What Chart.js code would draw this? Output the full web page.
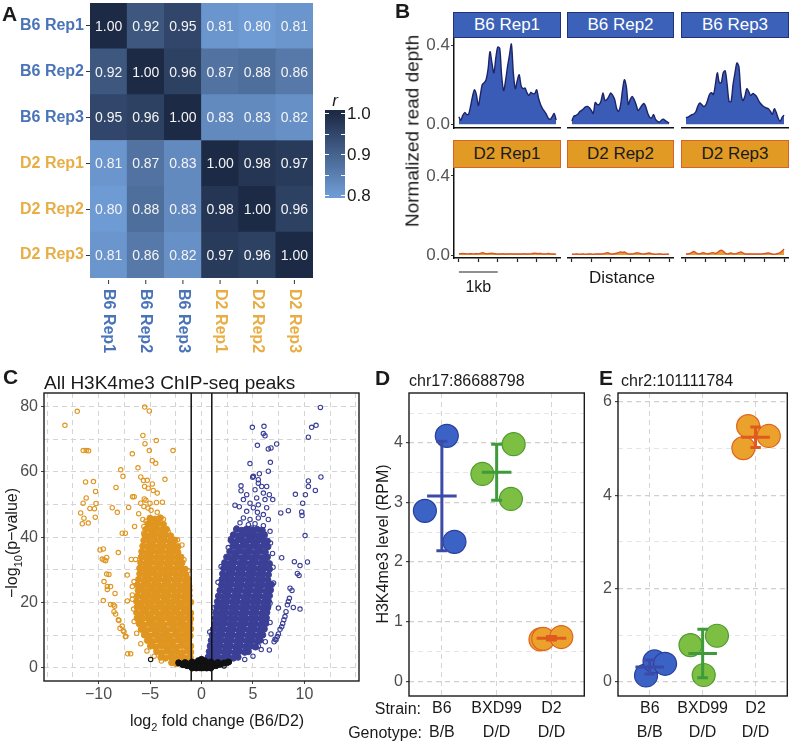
<!DOCTYPE html>
<html>
<head>
<meta charset="utf-8">
<title>H3K4me3 B6 vs D2</title>
<script src="https://cdn.jsdelivr.net/npm/chart.js@4.4.1/dist/chart.umd.min.js"></script>
<style>
  body { margin: 0; width: 800px; height: 744px; position: relative; overflow: hidden; background: #fff;
         font-family: "Liberation Sans", Arial, Helvetica, sans-serif; color: #1a1a1a; }
  canvas { position: absolute; }
  .txt { position: absolute; white-space: nowrap; line-height: 1; }
  .letter { position: absolute; font-weight: bold; font-size: 21px; line-height: 1; }
  .strip { position: absolute; box-sizing: border-box; font-size: 17px; text-align: center; border: 1px solid; line-height: 24px; }
  .b6 { background: #3b62b8; border-color: #24307a; color: #fff; }
  .d2 { background: #e19b24; border-color: #dc6128; color: #1a1a1a; }
</style>
</head>
<body>
<canvas id="heat" width="400" height="370" style="left:0;top:0"></canvas>

<canvas id="pB6r1" width="141" height="96" style="left:420px;top:36px"></canvas>
<canvas id="pB6r2" width="107" height="96" style="left:567px;top:36px"></canvas>
<canvas id="pB6r3" width="108" height="96" style="left:681px;top:36px"></canvas>
<canvas id="pD2r1" width="141" height="134" style="left:420px;top:166px"></canvas>
<canvas id="pD2r2" width="107" height="134" style="left:567px;top:166px"></canvas>
<canvas id="pD2r3" width="108" height="134" style="left:681px;top:166px"></canvas>

<canvas id="volcano" width="365" height="409" style="left:0;top:335px"></canvas>
<canvas id="chr17" width="227" height="384" style="left:370px;top:360px"></canvas>
<canvas id="chr2" width="203" height="384" style="left:597px;top:360px"></canvas>

<div class="letter" style="left:2px;top:3px">A</div>
<div class="letter" style="left:395px;top:0px">B</div>
<div class="letter" style="left:3px;top:366px">C</div>
<div class="letter" style="left:375px;top:367px">D</div>
<div class="letter" style="left:599px;top:367px">E</div>

<div class="strip b6" style="left:453px;top:12px;width:108px;height:26px">B6 Rep1</div>
<div class="strip b6" style="left:567px;top:12px;width:107px;height:26px">B6 Rep2</div>
<div class="strip b6" style="left:681px;top:12px;width:108px;height:26px">B6 Rep3</div>
<div class="strip d2" style="left:453px;top:140px;width:108px;height:28px;line-height:26px">D2 Rep1</div>
<div class="strip d2" style="left:567px;top:140px;width:107px;height:28px;line-height:26px">D2 Rep2</div>
<div class="strip d2" style="left:681px;top:140px;width:108px;height:28px;line-height:26px">D2 Rep3</div>
<div class="txt" style="left:412px;top:131px;font-size:19px;transform:translate(-50%,-50%) rotate(-90deg)">Normalized read depth</div>
<div class="txt" style="left:622px;top:277px;font-size:17px;transform:translate(-50%,-50%)">Distance</div>

<div class="txt" style="left:44px;top:373px;font-size:19px">All H3K4me3 ChIP-seq peaks</div>
<div class="txt" style="left:409px;top:373px;font-size:16px">chr17:86688798</div>
<div class="txt" style="left:621px;top:373px;font-size:16px">chr2:101111784</div>
<div class="txt" style="left:300px;top:701px;width:121px;text-align:right;font-size:16px">Strain:</div>
<div class="txt" style="left:300px;top:725px;width:122px;text-align:right;font-size:16px">Genotype:</div>

<script>
// ---------- data ----------
const samples = ['B6 Rep1', 'B6 Rep2', 'B6 Rep3', 'D2 Rep1', 'D2 Rep2', 'D2 Rep3'];
const sampleColors = ['#4a74b8', '#4a74b8', '#4a74b8', '#e8ae45', '#e8ae45', '#e8ae45'];
const corr = [
  [1.00, 0.92, 0.95, 0.81, 0.80, 0.81],
  [0.92, 1.00, 0.96, 0.87, 0.88, 0.86],
  [0.95, 0.96, 1.00, 0.83, 0.83, 0.82],
  [0.81, 0.87, 0.83, 1.00, 0.98, 0.97],
  [0.80, 0.88, 0.83, 0.98, 1.00, 0.96],
  [0.81, 0.86, 0.82, 0.97, 0.96, 1.00]
];
const legendTicks = [0.8, 0.9, 1.0];

// read depth profiles, 50 bp steps around the peak
const distance = [-1250, -1200, -1150, -1100, -1050, -1000, -950, -900, -850, -800, -750, -700, -650, -600, -550, -500, -450, -400, -350, -300, -250, -200, -150, -100, -50, 0,
  50, 100, 150, 200, 250, 300, 350, 400, 450, 500, 550, 600, 650, 700, 750, 800, 850, 900, 950, 1000, 1050, 1100, 1150, 1200, 1250];
const distanceTicks = [-1250, -750, -250, 250, 750, 1250];
const depthTicks = [0, 0.4];
const scaleBarBp = [-1250, -250];
const depthB6Rep1 = [0.038, 0.02, 0.045, 0.059, 0.05, 0.05, 0.09, 0.14, 0.174, 0.15, 0.095, 0.145, 0.2, 0.21, 0.225, 0.277, 0.367, 0.31, 0.26, 0.335, 0.39, 0.384, 0.244, 0.17, 0.22, 0.29,
  0.35, 0.405, 0.26, 0.18, 0.22, 0.25, 0.194, 0.18, 0.183, 0.16, 0.145, 0.161, 0.155, 0.155, 0.174, 0.13, 0.1, 0.079, 0.065, 0.05, 0.03, 0.025, 0.038, 0.054, 0.021];
const depthB6Rep2 = [0.016, 0.04, 0.044, 0.05, 0.063, 0.07, 0.078, 0.088, 0.09, 0.083, 0.07, 0.054, 0.11, 0.1, 0.1, 0.118, 0.158, 0.12, 0.125, 0.14, 0.158, 0.146, 0.125, 0.08, 0.065, 0.095,
  0.17, 0.225, 0.19, 0.1, 0.125, 0.14, 0.125, 0.1, 0.07, 0.08, 0.095, 0.105, 0.088, 0.055, 0.035, 0.032, 0.049, 0.025, 0.015, 0.01, 0.02, 0.026, 0.018, 0.012, 0.005];
const depthB6Rep3 = [0.033, 0.036, 0.042, 0.048, 0.052, 0.062, 0.09, 0.107, 0.1, 0.09, 0.095, 0.12, 0.15, 0.16, 0.15, 0.2, 0.26, 0.21, 0.21, 0.26, 0.27, 0.2, 0.115, 0.115, 0.2, 0.26,
  0.31, 0.29, 0.16, 0.12, 0.14, 0.18, 0.165, 0.145, 0.155, 0.15, 0.14, 0.12, 0.105, 0.095, 0.087, 0.082, 0.078, 0.066, 0.05, 0.078, 0.06, 0.03, 0.015, 0.035, 0.046];
const depthD2Rep1 = [0.006, 0.007, 0.008, 0.007, 0.006, 0.006, 0.007, 0.006, 0.006, 0.007, 0.006, 0.008, 0.012, 0.009, 0.006, 0.007, 0.008, 0.009, 0.007, 0.006, 0.005, 0.005, 0.006, 0.006, 0.005, 0.005,
  0.006, 0.006, 0.005, 0.005, 0.006, 0.005, 0.005, 0.006, 0.006, 0.005, 0.006, 0.006, 0.008, 0.009, 0.008, 0.007, 0.008, 0.006, 0.005, 0.006, 0.008, 0.006, 0.005, 0.005, 0.004];
const depthD2Rep2 = [0.004, 0.004, 0.005, 0.005, 0.004, 0.005, 0.005, 0.004, 0.005, 0.006, 0.005, 0.004, 0.005, 0.006, 0.005, 0.005, 0.006, 0.008, 0.012, 0.01, 0.006, 0.005, 0.007, 0.009, 0.012, 0.016,
  0.013, 0.015, 0.01, 0.006, 0.005, 0.006, 0.008, 0.01, 0.011, 0.008, 0.006, 0.005, 0.007, 0.009, 0.01, 0.007, 0.005, 0.004, 0.005, 0.006, 0.005, 0.004, 0.004, 0.005, 0.004];
const depthD2Rep3 = [0.005, 0.006, 0.008, 0.013, 0.018, 0.012, 0.007, 0.006, 0.009, 0.012, 0.008, 0.006, 0.008, 0.011, 0.012, 0.008, 0.012, 0.02, 0.025, 0.019, 0.01, 0.006, 0.008, 0.01, 0.007, 0.006,
  0.008, 0.012, 0.016, 0.011, 0.006, 0.005, 0.005, 0.006, 0.005, 0.005, 0.006, 0.005, 0.005, 0.006, 0.007, 0.009, 0.01, 0.008, 0.005, 0.004, 0.005, 0.008, 0.012, 0.02, 0.03];

// volcano: [log2 fold change, -log10 p]; "core" = the saturated, overplotted mass
const foldGrid = [-15, -12.5, -10, -7.5, -5, -2.5, 0, 2.5, 5, 7.5, 10, 12.5, 15];
const foldLabels = [-10, -5, 0, 5, 10];
const pGrid = [0, 10, 20, 30, 40, 50, 60, 70, 80];
const pLabels = [0, 20, 40, 60, 80];
const foldCut = [-1, 1];
const volcanoD2Core = [
  [-2.9,1.6],[-2.45,1.3],[-1.95,1.7],[-1.5,1.4],[-1.1,1.6],
  [-3.95,3.3],[-3.5,3.0],[-3.0,3.4],[-2.5,3.1],[-2.0,3.3],[-1.55,3.0],[-1.1,3.3],
  [-4.35,5.0],[-3.85,4.7],[-3.35,5.1],[-2.85,4.8],[-2.35,5.0],[-1.85,4.7],[-1.35,5.1],[-1.05,4.8],
  [-4.95,6.7],[-4.45,6.4],[-3.95,6.8],[-3.45,6.5],[-2.95,6.7],[-2.45,6.4],[-1.95,6.8],[-1.45,6.5],[-1.05,6.7],
  [-5.25,8.4],[-4.75,8.1],[-4.25,8.5],[-3.75,8.2],[-3.25,8.4],[-2.75,8.1],[-2.25,8.5],[-1.75,8.2],[-1.25,8.4],
  [-5.55,10.1],[-5.05,9.8],[-4.55,10.2],[-4.05,9.9],[-3.55,10.1],[-3.05,9.8],[-2.55,10.2],[-2.05,9.9],[-1.55,10.1],[-1.1,9.8],
  [-5.85,11.8],[-5.35,11.5],[-4.85,11.9],[-4.35,11.6],[-3.85,11.8],[-3.35,11.5],[-2.85,11.9],[-2.35,11.6],[-1.85,11.8],[-1.35,11.5],[-1.05,11.9],
  [-6.05,13.5],[-5.6,13.2],[-5.1,13.6],[-4.6,13.3],[-4.1,13.5],[-3.6,13.2],[-3.1,13.6],[-2.6,13.3],[-2.1,13.5],[-1.6,13.2],[-1.15,13.6],
  [-6.25,15.2],[-5.8,14.9],[-5.3,15.3],[-4.8,15.0],[-4.3,15.2],[-3.8,14.9],[-3.3,15.3],[-2.8,15.0],[-2.3,15.2],[-1.8,14.9],[-1.3,15.3],[-1.05,15.0],
  [-6.3,16.9],[-5.85,16.6],[-5.35,17.0],[-4.85,16.7],[-4.35,16.9],[-3.85,16.6],[-3.35,17.0],[-2.85,16.7],[-2.35,16.9],[-1.85,16.6],[-1.35,17.0],[-1.05,16.8],
  [-6.25,18.6],[-5.75,18.3],[-5.25,18.7],[-4.75,18.4],[-4.25,18.6],[-3.75,18.3],[-3.25,18.7],[-2.75,18.4],[-2.25,18.6],[-1.75,18.3],[-1.25,18.7],
  [-6.3,20.3],[-5.8,20.0],[-5.3,20.4],[-4.8,20.1],[-4.3,20.3],[-3.8,20.0],[-3.3,20.4],[-2.8,20.1],[-2.3,20.3],[-1.8,20.0],[-1.3,20.4],[-1.05,20.1],
  [-6.2,22.0],[-5.7,21.7],[-5.2,22.1],[-4.7,21.8],[-4.2,22.0],[-3.7,21.7],[-3.2,22.1],[-2.7,21.8],[-2.2,22.0],[-1.7,21.7],[-1.2,22.1],
  [-6.15,23.7],[-5.65,23.4],[-5.15,23.8],[-4.65,23.5],[-4.15,23.7],[-3.65,23.4],[-3.15,23.8],[-2.65,23.5],[-2.15,23.7],[-1.65,23.4],[-1.2,23.8],
  [-6.2,25.4],[-5.7,25.1],[-5.2,25.5],[-4.7,25.2],[-4.2,25.4],[-3.7,25.1],[-3.2,25.5],[-2.7,25.2],[-2.2,25.4],[-1.7,25.1],[-1.3,25.5],
  [-6.1,27.1],[-5.6,26.8],[-5.1,27.2],[-4.6,26.9],[-4.1,27.1],[-3.6,26.8],[-3.1,27.2],[-2.6,26.9],[-2.1,27.1],[-1.6,26.8],[-1.3,27.2],
  [-6.0,28.8],[-5.5,28.5],[-5.0,28.9],[-4.5,28.6],[-4.0,28.8],[-3.5,28.5],[-3.0,28.9],[-2.5,28.6],[-2.0,28.8],[-1.5,28.5],
  [-6.0,30.5],[-5.5,30.2],[-5.0,30.6],[-4.5,30.3],[-4.0,30.5],[-3.5,30.2],[-3.0,30.6],[-2.5,30.3],[-2.0,30.5],[-1.6,30.2],
  [-5.9,32.2],[-5.4,31.9],[-4.9,32.3],[-4.4,32.0],[-3.9,32.2],[-3.4,31.9],[-2.9,32.3],[-2.4,32.0],[-1.9,32.2],
  [-5.85,33.9],[-5.35,33.6],[-4.85,34.0],[-4.35,33.7],[-3.85,33.9],[-3.35,33.6],[-2.85,34.0],[-2.35,33.7],[-2.0,33.9],
  [-5.8,35.6],[-5.3,35.3],[-4.8,35.7],[-4.3,35.4],[-3.8,35.6],[-3.3,35.3],[-2.8,35.7],[-2.3,35.4],
  [-5.7,37.3],[-5.2,37.0],[-4.7,37.4],[-4.2,37.1],[-3.7,37.3],[-3.2,37.0],[-2.7,37.4],[-2.3,37.1],
  [-5.6,39.0],[-5.1,38.7],[-4.6,39.1],[-4.1,38.8],[-3.6,39.0],[-3.1,38.7],[-2.6,39.1],
  [-5.5,40.7],[-5.0,40.4],[-4.5,40.8],[-4.0,40.5],[-3.5,40.7],[-3.0,40.4],
  [-5.4,42.4],[-4.9,42.1],[-4.4,42.5],[-3.9,42.2],[-3.4,42.4],
  [-5.2,44.1],[-4.7,43.8],[-4.2,44.2],[-3.7,43.9],
  [-5.0,45.8],[-4.5,45.5],[-4.0,45.9]
];
const volcanoD2Sparse = [
  [-5.9,58.4],[-5.64,57.3],[-5.27,57.4],[-4.78,56.3],[-5.53,55.5],[-5.18,55.0],[-4.69,54.3],[-4.3,53.5],[-6.54,52.4],[-6.7,52.4],
  [-5.56,51.7],[-5.4,51.3],[-5.9,50.4],[-5.0,50.4],[-4.37,50.6],[-3.8,50.7],[-5.6,49.4],[-5.2,48.9],[-4.9,48.2],[-4.3,47.6],
  [-6.1,47.2],[-5.7,45.4],[-5.4,44.9],[-5.0,45.5],[-4.6,44.9],[-5.2,43.8],[-5.6,43.3],[-4.9,42.8],[-4.45,43.3],[-3.97,43.3],
  [-3.7,45.5],[-4.07,42.1],[-5.6,41.3],[-5.27,40.3],[-4.78,40.8],[-4.3,40.3],[-3.64,39.2],[-3.25,41.8],[-2.33,39.2],[-6.5,43.3],[-7.4,41.2],
  [-8.3,55.2],[-7.85,60.6],[-7.63,58.6],[-6.17,61.2],[-3.55,57.7],[-4.78,63.4],[-4.45,62.6],[-6.72,65.5],[-5.07,66.5],[-2.77,66.5],
  [-5.49,68.6],[-4.39,69.6],[-5.69,71.1],[-5.52,79.8],[-5.07,78.6],[-12.07,78.5],[-13.27,74.2],[-11.49,66.5],[-11.2,66.5],[-10.97,66.4],
  [-11.26,56.9],[-10.5,57.0],[-10.29,54.0],[-11.2,52.0],[-11.5,50.4],[-10.25,50.3],[-10.84,48.8],[-10.4,48.7],[-11.74,47.4],[-11.42,45.8],
  [-10.32,46.1],[-11.58,44.1],[-11.0,44.3],[-8.67,49.0],[-8.18,47.6],[-7.08,49.1],
  [-9.54,36.4],[-9.64,33.3],[-9.21,33.8],[-9.31,32.8],[-8.08,35.3],[-9.21,28.7],[-8.99,28.6],[-9.47,26.4],[-8.83,24.9],[-9.15,24.0],
  [-9.54,20.6],[-8.83,19.4],[-8.44,18.9],[-8.5,17.2],[-8.34,16.5],[-8.02,14.5],[-7.7,12.8],[-7.92,12.1],[-7.6,11.4],[-7.4,9.6],
  [-6.88,4.3],[-7.21,28.4],[-6.56,26.4],[-6.72,24.9],[-6.72,22.3],[-6.72,21.0],[-7.21,20.5],[-6.82,33.2],[-6.4,33.2],[-9.86,36.1],
  [-9.47,33.0],[-9.15,24.9],[-8.4,22.8],[-8.57,19.3],[-8.08,14.7],[-7.53,11.1],[-7.34,9.6],[-7.17,4.3],[-7.7,41.2],
  [-6.6,18.0],[-6.55,14.2],[-6.3,10.6],[-5.9,7.4],[-5.3,5.2],[-4.6,3.6],[-3.9,2.1],[-1.9,37.6],[-1.7,33.1],[-1.3,29.8],[-1.15,25.0]
];
const volcanoB6Core = [
  [0.55,1.6],[1.0,1.3],[1.5,1.7],[2.0,1.4],[2.45,1.6],
  [0.65,3.3],[1.1,3.0],[1.6,3.4],[2.1,3.1],[2.6,3.3],[3.1,3.0],[3.55,3.3],
  [0.75,5.0],[1.2,4.7],[1.7,5.1],[2.2,4.8],[2.7,5.0],[3.2,4.7],[3.7,5.1],[4.2,4.8],[4.55,5.0],
  [0.85,6.7],[1.3,6.4],[1.8,6.8],[2.3,6.5],[2.8,6.7],[3.3,6.4],[3.8,6.8],[4.3,6.5],[4.8,6.7],[5.25,6.4],
  [0.95,8.4],[1.4,8.1],[1.9,8.5],[2.4,8.2],[2.9,8.4],[3.4,8.1],[3.9,8.5],[4.4,8.2],[4.9,8.4],[5.4,8.1],[5.7,8.5],
  [1.05,10.1],[1.5,9.8],[2.0,10.2],[2.5,9.9],[3.0,10.1],[3.5,9.8],[4.0,10.2],[4.5,9.9],[5.0,10.1],[5.5,9.8],[5.95,10.1],
  [1.15,11.8],[1.6,11.5],[2.1,11.9],[2.6,11.6],[3.1,11.8],[3.6,11.5],[4.1,11.9],[4.6,11.6],[5.1,11.8],[5.6,11.5],[6.1,11.9],
  [1.3,13.5],[1.75,13.2],[2.25,13.6],[2.75,13.3],[3.25,13.5],[3.75,13.2],[4.25,13.6],[4.75,13.3],[5.25,13.5],[5.75,13.2],[6.25,13.6],
  [1.35,15.2],[1.8,14.9],[2.3,15.3],[2.8,15.0],[3.3,15.2],[3.8,14.9],[4.3,15.3],[4.8,15.0],[5.3,15.2],[5.8,14.9],[6.3,15.3],
  [1.4,16.9],[1.85,16.6],[2.35,17.0],[2.85,16.7],[3.35,16.9],[3.85,16.6],[4.35,17.0],[4.85,16.7],[5.35,16.9],[5.85,16.6],[6.35,17.0],
  [1.5,18.6],[1.95,18.3],[2.45,18.7],[2.95,18.4],[3.45,18.6],[3.95,18.3],[4.45,18.7],[4.95,18.4],[5.45,18.6],[5.95,18.3],[6.45,18.7],
  [1.55,20.3],[2.0,20.0],[2.5,20.4],[3.0,20.1],[3.5,20.3],[4.0,20.0],[4.5,20.4],[5.0,20.1],[5.5,20.3],[6.0,20.0],[6.5,20.4],
  [1.65,22.0],[2.1,21.7],[2.6,22.1],[3.1,21.8],[3.6,22.0],[4.1,21.7],[4.6,22.1],[5.1,21.8],[5.6,22.0],[6.1,21.7],[6.6,22.1],
  [1.8,23.7],[2.25,23.4],[2.75,23.8],[3.25,23.5],[3.75,23.7],[4.25,23.4],[4.75,23.8],[5.25,23.5],[5.75,23.7],[6.25,23.4],[6.7,23.8],
  [1.95,25.4],[2.4,25.1],[2.9,25.5],[3.4,25.2],[3.9,25.4],[4.4,25.1],[4.9,25.5],[5.4,25.2],[5.9,25.4],[6.4,25.1],[6.8,25.5],
  [2.0,27.1],[2.45,26.8],[2.95,27.2],[3.45,26.9],[3.95,27.1],[4.45,26.8],[4.95,27.2],[5.45,26.9],[5.95,27.1],[6.45,26.8],
  [2.05,28.8],[2.5,28.5],[3.0,28.9],[3.5,28.6],[4.0,28.8],[4.5,28.5],[5.0,28.9],[5.5,28.6],[6.0,28.8],[6.5,28.5],
  [2.15,30.5],[2.6,30.2],[3.1,30.6],[3.6,30.3],[4.1,30.5],[4.6,30.2],[5.1,30.6],[5.6,30.3],[6.1,30.5],[6.6,30.2],
  [2.25,32.2],[2.7,31.9],[3.2,32.3],[3.7,32.0],[4.2,32.2],[4.7,31.9],[5.2,32.3],[5.7,32.0],[6.2,32.2],[6.6,31.9],
  [2.45,33.9],[2.9,33.6],[3.4,34.0],[3.9,33.7],[4.4,33.9],[4.9,33.6],[5.4,34.0],[5.9,33.7],[6.4,33.9],
  [2.75,35.6],[3.2,35.3],[3.7,35.7],[4.2,35.4],[4.7,35.6],[5.2,35.3],[5.7,35.7],[6.2,35.4],
  [3.05,37.3],[3.5,37.0],[4.0,37.4],[4.5,37.1],[5.0,37.3],[5.5,37.0],[6.0,37.4],[6.45,37.1],
  [2.9,39.0],[3.4,38.7],[3.9,39.1],[4.4,38.8],[4.9,39.0],[5.4,38.7],[5.9,39.1],[6.4,38.8],
  [3.1,40.7],[3.6,40.4],[4.1,40.8],[4.6,40.5],[5.1,40.7],[5.6,40.4],[6.1,40.8],
  [3.4,42.4],[3.9,42.1],[4.4,42.5],[4.9,42.2],[5.4,42.4],[5.9,42.1]
];
const volcanoB6Sparse = [
  [5.04,58.6],[5.52,56.5],[5.85,55.5],[6.33,55.5],[5.2,54.5],[6.01,53.5],[6.59,53.0],[4.39,53.0],[4.07,51.5],[5.36,52.0],
  [6.17,51.5],[6.92,51.5],[4.71,50.4],[5.52,49.9],[3.25,49.8],[3.67,49.3],[5.04,49.0],[6.33,49.0],[4.39,47.9],[5.43,47.6],
  [6.01,46.9],[4.07,45.9],[4.71,45.4],[5.52,45.9],[6.49,45.4],[3.74,44.4],[4.55,43.8],[5.2,44.1],[6.01,43.5],[3.42,42.8],
  [4.23,42.3],[4.87,42.8],[5.69,42.1],[6.66,41.8],[3.09,40.8],[3.74,40.3],[4.55,40.8],[5.2,40.1],[6.17,40.5],[2.83,39.5],
  [11.55,79.7],[10.7,73.6],[11.13,74.2],[10.38,70.6],[4.94,73.6],[6.07,73.9],[6.01,71.7],[6.17,71.0],[5.43,68.1],[7.3,68.5],
  [6.49,67.0],[6.75,67.3],[4.71,62.5],[6.69,62.9],[5.62,59.4],[6.49,60.2],[4.97,58.3],[5.52,57.6],[3.84,55.7],[3.84,54.2],
  [11.6,58.4],[10.38,57.2],[10.38,55.5],[11.06,54.3],[9.12,53.1],[10.09,53.0],[9.83,50.4],[9.73,47.7],[9.77,46.6],[8.44,48.1],
  [7.7,47.4],[10.06,40.5],[7.79,33.7],[9.02,32.5],[9.57,31.3],[10.29,32.4],[9.31,28.9],[9.48,28.3],[8.6,24.4],[8.79,23.7],
  [9.57,18.0],[8.92,18.5],[8.54,21.3],[8.34,19.3],[8.21,17.2],[8.11,15.7],[7.89,13.6],[7.63,11.8],[7.47,10.4],[7.24,8.6],
  [7.05,8.0],[8.44,20.3],[8.0,14.7],[7.79,12.6],[7.37,9.6],[7.14,8.8],[7.47,18.3],[6.66,19.8],[6.49,18.3],[6.66,13.9],
  [6.59,5.5],[5.52,6.7],[6.75,10.4],[7.0,26.0],[6.95,30.8],[6.9,35.0],[6.7,38.2],[2.6,36.8],[1.9,31.0],[1.6,26.2],[1.2,18.4],[0.8,11.0],
  [5.0,3.6],[5.8,5.6],[6.2,8.0],[4.2,2.6]
];
const volcanoNS = [
  [-2.2,1.5],[-1.8,1.0],[-1.4,0.7],[-1.0,0.4],[-0.6,0.2],[-0.2,0.1],[0.2,0.1],[0.6,0.2],[1.0,0.4],[1.4,0.7],[1.8,1.1],[2.2,1.5],[2.6,1.8],
  [-0.9,0],[-0.5,0],[0,0],[0.5,0],[0.9,0],[-1.2,1.2],[-0.8,0.9],[-0.4,0.6],[0,0.5],[0.4,0.6],[0.8,0.9],[1.2,1.2],
  [-0.9,1.8],[-0.5,1.4],[0,1.2],[0.5,1.4],[0.9,1.8],[-0.3,2.2],[0.3,2.2],[0,2.6],[-1.6,1.6],[1.6,1.6],
  [-0.7,0.4],[0.7,0.4],[-0.2,0.3],[0.2,0.3]
];
const volcanoNSSparse = [[-4.94,2.6],[-2.25,1.7],[2.19,0.6],[2.7,1.8]];

// H3K4me3 level (RPM) per strain
const strains = ['B6', 'BXD99', 'D2'];
const genotypes = ['B/B', 'D/D', 'D/D'];
const chr17X = [[1.09, 0.69, 1.23], [2.31, 1.74, 2.26], [2.80, 2.85, 3.18]];
const chr17Y = [[4.12, 2.86, 2.34], [3.98, 3.48, 3.06], [0.70, 0.71, 0.74]];
const chr17Mean = [3.11, 3.51, 0.72];
const chr17Err = [0.92, 0.47, 0.03];
const chr17Ticks = [0, 0.5, 1, 1.5, 2, 2.5, 3, 3.5, 4, 4.5];
const chr17Labels = [0, 1, 2, 3, 4];
const chr2X = [[0.93, 1.09, 1.29], [1.77, 2.27, 2.02], [2.86, 3.25, 2.77]];
const chr2Y = [[0.14, 0.44, 0.39], [0.79, 0.99, 0.15], [5.48, 5.27, 5.01]];
const chr2Mean = [0.32, 0.61, 5.24];
const chr2Err = [0.15, 0.52, 0.22];
const chr2Ticks = [0, 1, 2, 3, 4, 5, 6];
const chr2Labels = [0, 2, 4, 6];

// ---------- styling ----------
const FONT = '"Liberation Sans", Arial, Helvetica, sans-serif';
Chart.defaults.font.family = FONT;
Chart.defaults.animation = false;
Chart.defaults.events = [];
Chart.defaults.plugins.legend.display = false;
Chart.defaults.plugins.tooltip.enabled = false;
Chart.defaults.responsive = false;
Chart.defaults.maintainAspectRatio = false;

const groupFill = ['#3b63c6', '#7cbf42', '#eba22c'];
const groupEdge = ['#2b3e9e', '#4f9c2d', '#e0641f'];
const groupBar = ['#3c4ba8', '#3f9a3b', '#e0591f'];
const capHalf = 0.1, meanHalf = 0.27;

function heatColor(v) {
  const t = Math.max(0, Math.min(1, (v - 0.8) / 0.2));
  const lo = [110, 155, 212], hi = [29, 42, 70];
  const c = lo.map((l, i) => Math.round(l + (hi[i] - l) * t));
  return `rgb(${c[0]},${c[1]},${c[2]})`;
}
function minusFmt(v) { return v < 0 ? '\u2212' + Math.abs(v) : String(v); }

function drawRich(ctx, item) {
  const size = item.size || 16;
  ctx.save();
  ctx.translate(item.x, item.y);
  if (item.rot) ctx.rotate(item.rot);
  ctx.fillStyle = item.color || '#1a1a1a';
  ctx.textBaseline = 'alphabetic';
  const fonts = item.parts.map(p => (p.sub ? Math.round(size * 0.7) : size) + 'px ' + FONT);
  let w = 0;
  const ws = item.parts.map((p, i) => { ctx.font = fonts[i]; const m = ctx.measureText(p.t).width; w += m; return m; });
  let x = -w / 2;
  const base = size * 0.36;
  item.parts.forEach((p, i) => { ctx.font = fonts[i]; ctx.fillText(p.t, x, base + (p.sub ? size * 0.3 : 0)); x += ws[i]; });
  ctx.restore();
}
function textPlugin(items) {
  return { id: 'richText', afterDraw(chart) { items.forEach(it => drawRich(chart.ctx, it)); } };
}
const panelBox = {
  id: 'panelBox',
  afterDatasetsDraw(chart) {
    const { left, top, width, height } = chart.chartArea;
    const ctx = chart.ctx;
    ctx.save(); ctx.strokeStyle = '#1a1a1a'; ctx.lineWidth = 1.4;
    ctx.strokeRect(left, top, width, height); ctx.restore();
  }
};
function zeroPad(s) { s.paddingTop = 0; s.paddingBottom = 0; s.paddingLeft = 0; s.paddingRight = 0; }

// ---------- A: correlation heatmap ----------
const heatExtras = {
  id: 'heatExtras',
  afterDatasetsDraw(chart) {
    const ctx = chart.ctx;
    ctx.save();
    ctx.font = '14px ' + FONT; ctx.fillStyle = '#f4f4f4';
    ctx.textAlign = 'center'; ctx.textBaseline = 'middle';
    chart.data.datasets.forEach((ds, d) => {
      chart.getDatasetMeta(d).data.forEach((el, j) => {
        ctx.fillText(corr[ds.row][j].toFixed(2), el.x, (el.y + el.base) / 2 + 1);
      });
    });
    ctx.restore();
  },
  afterDraw(chart) {
    const ctx = chart.ctx, xs = chart.scales.x, area = chart.chartArea;
    ctx.save();
    samples.forEach((s, j) => {
      const x = xs.getPixelForValue(j);
      ctx.strokeStyle = '#333'; ctx.lineWidth = 1;
      ctx.beginPath(); ctx.moveTo(x, area.bottom + 2); ctx.lineTo(x, area.bottom + 6); ctx.stroke();
      ctx.save();
      ctx.translate(x, area.bottom + 11); ctx.rotate(Math.PI / 2);
      ctx.font = 'bold 16px ' + FONT; ctx.fillStyle = sampleColors[j];
      ctx.textAlign = 'left'; ctx.textBaseline = 'middle';
      ctx.fillText(s, 0, 0);
      ctx.restore();
    });
    // colour bar legend
    const yOf = v => 195 - (v - 0.8) * 410;
    const g = ctx.createLinearGradient(0, yOf(1.0), 0, yOf(0.8));
    g.addColorStop(0, heatColor(1.0)); g.addColorStop(1, heatColor(0.8));
    ctx.fillStyle = g; ctx.fillRect(325, 110, 20, 88);
    ctx.strokeStyle = '#fff'; ctx.lineWidth = 1;
    [0.8, 0.85, 0.9, 0.95, 1.0].forEach(v => {
      const y = Math.round(yOf(v)) + 0.5;
      ctx.beginPath(); ctx.moveTo(325, y); ctx.lineTo(329, y); ctx.moveTo(341, y); ctx.lineTo(345, y); ctx.stroke();
    });
    ctx.fillStyle = '#1a1a1a'; ctx.font = '17px ' + FONT; ctx.textAlign = 'left'; ctx.textBaseline = 'middle';
    legendTicks.forEach(v => ctx.fillText(v.toFixed(1), 347, yOf(v) + 1));
    ctx.font = 'italic 17px ' + FONT; ctx.textAlign = 'center';
    ctx.fillText('r', 335, 101);
    ctx.restore();
  }
};
new Chart(document.getElementById('heat'), {
  type: 'bar',
  data: {
    labels: samples,
    datasets: samples.map((s, r) => ({
      label: s, row: r,
      data: samples.map(() => 1),
      backgroundColor: corr[r].map(heatColor),
      borderWidth: 0, barPercentage: 1, categoryPercentage: 1
    })).reverse()
  },
  options: {
    layout: { padding: { left: 0, top: 3, right: 87, bottom: 92 } },
    scales: {
      x: { stacked: true, display: false },
      y: {
        stacked: true, min: 0, max: 6,
        afterBuildTicks: s => { s.ticks = samples.map((_, r) => ({ value: 5.5 - r })); },
        afterFit: s => { s.width = 90; zeroPad(s); },
        ticks: { callback: (v, i) => samples[i], color: c => sampleColors[c.index], font: { size: 16, weight: 'bold' }, padding: 2, autoSkip: false },
        grid: { display: true, drawOnChartArea: false, tickLength: 4, tickColor: '#333', tickWidth: 1 },
        border: { display: false }
      }
    }
  },
  plugins: [heatExtras]
});

// ---------- B: read depth profiles ----------
const scaleBar = {
  id: 'scaleBar',
  afterDraw(chart) {
    const ctx = chart.ctx, xs = chart.scales.x, b = chart.chartArea.bottom;
    const x0 = xs.getPixelForValue(scaleBarBp[0]), x1 = xs.getPixelForValue(scaleBarBp[1]);
    ctx.save();
    ctx.strokeStyle = '#222'; ctx.lineWidth = 1.2;
    ctx.beginPath(); ctx.moveTo(x0, b + 14); ctx.lineTo(x1, b + 14); ctx.stroke();
    ctx.font = '16px ' + FONT; ctx.fillStyle = '#1a1a1a'; ctx.textAlign = 'center'; ctx.textBaseline = 'middle';
    ctx.fillText('1kb', (x0 + x1) / 2, b + 30);
    ctx.restore();
  }
};
function profilePanel(id, values, fill, line, bottomRow, firstCol, plugins) {
  const yMin = bottomRow ? -0.015 : -0.019, yMax = bottomRow ? 0.44 : 0.436;
  return new Chart(document.getElementById(id), {
    type: 'line',
    data: { datasets: [{
      data: distance.map((d, i) => ({ x: d, y: values[i] })),
      fill: 'origin', backgroundColor: fill, borderColor: line, borderWidth: 1.4,
      pointRadius: 0, tension: 0.3
    }] },
    options: {
      layout: { padding: { top: 2, left: 0, right: 0, bottom: 0 } },
      scales: {
        x: {
          type: 'linear', min: -1375, max: 1375,
          afterBuildTicks: s => { s.ticks = distanceTicks.map(v => ({ value: v })); },
          afterFit: s => { s.height = bottomRow ? 42 : 4; zeroPad(s); },
          ticks: { display: false },
          grid: { display: true, drawOnChartArea: false, drawTicks: bottomRow, tickLength: 4, tickColor: '#222', tickWidth: 1.2 },
          border: { display: true, color: '#111', width: 1.5 }
        },
        y: {
          display: firstCol, min: yMin, max: yMax,
          afterBuildTicks: s => { s.ticks = depthTicks.map(v => ({ value: v })); },
          afterFit: s => { s.width = firstCol ? 34 : 0; zeroPad(s); },
          ticks: { callback: v => v.toFixed(1), color: '#555', font: { size: 17 }, padding: 1 },
          grid: { display: true, drawOnChartArea: false, tickLength: 3, tickColor: '#333' },
          border: { display: true, color: '#111', width: 1.5 }
        }
      }
    },
    plugins: plugins || []
  });
}
const B6_FILL = '#3a5cb6', B6_LINE = '#1d246a', D2_FILL = '#e89a35', D2_LINE = '#d9541e';
profilePanel('pB6r1', depthB6Rep1, B6_FILL, B6_LINE, false, true);
profilePanel('pB6r2', depthB6Rep2, B6_FILL, B6_LINE, false, false);
profilePanel('pB6r3', depthB6Rep3, B6_FILL, B6_LINE, false, false);
profilePanel('pD2r1', depthD2Rep1, D2_FILL, D2_LINE, true, true, [scaleBar]);
profilePanel('pD2r2', depthD2Rep2, D2_FILL, D2_LINE, true, false);
profilePanel('pD2r3', depthD2Rep3, D2_FILL, D2_LINE, true, false);

// ---------- C: volcano ----------
const foldMin = -15.3, foldMax = 15.3, pMin = -4, pMax = 84.1;
const ORANGE = '#df951f', NAVY = '#3b3f96', BLACK = '#111';
const ring = { pointRadius: 2.2, pointBorderWidth: 1.1, pointBackgroundColor: 'rgba(0,0,0,0)', showLine: false };
const solid = c => ({ pointRadius: 3.1, pointBorderWidth: 1, pointBorderColor: c, pointBackgroundColor: c, showLine: false });
const asPts = arr => arr.map(([x, y]) => ({ x, y }));
new Chart(document.getElementById('volcano'), {
  type: 'scatter',
  data: { datasets: [
    ...foldCut.map(v => ({ type: 'line', data: [{ x: v, y: pMin }, { x: v, y: pMax }], borderColor: '#111', borderWidth: 1.5, pointRadius: 0, order: 0 })),
    { data: asPts(volcanoNS), order: 1, ...solid(BLACK) },
    { data: asPts(volcanoNSSparse), pointBorderColor: BLACK, order: 1, ...ring },
    { data: asPts(volcanoB6Sparse), pointBorderColor: NAVY, order: 2, ...ring },
    { data: asPts(volcanoB6Core), order: 2, ...solid(NAVY) },
    { data: asPts(volcanoD2Sparse), pointBorderColor: ORANGE, order: 3, ...ring },
    { data: asPts(volcanoD2Core), order: 3, ...solid(ORANGE) }
  ] },
  options: {
    layout: { padding: { top: 58, right: 6, left: 0, bottom: 0 } },
    scales: {
      x: {
        type: 'linear', min: foldMin, max: foldMax,
        afterBuildTicks: s => { s.ticks = foldGrid.map(v => ({ value: v })); },
        afterFit: s => { s.height = 63; zeroPad(s); },
        ticks: { callback: v => foldLabels.includes(v) ? minusFmt(v) : '', color: '#4d4d4d', font: { size: 16 }, padding: 1, autoSkip: false, maxRotation: 0 },
        grid: { color: '#d4d4d4', lineWidth: 1, tickLength: 3, tickColor: c => (c.tick && foldLabels.includes(c.tick.value)) ? '#444' : 'rgba(0,0,0,0)' },
        border: { display: false, dash: [5, 4] }
      },
      y: {
        type: 'linear', min: pMin, max: pMax,
        afterBuildTicks: s => { s.ticks = pGrid.map(v => ({ value: v })); },
        afterFit: s => { s.width = 44; zeroPad(s); },
        ticks: { callback: v => pLabels.includes(v) ? String(v) : '', color: '#4d4d4d', font: { size: 16 }, padding: 3, autoSkip: false },
        grid: { color: '#d4d4d4', lineWidth: 1, tickLength: 3, tickColor: c => (c.tick && pLabels.includes(c.tick.value)) ? '#444' : 'rgba(0,0,0,0)' },
        border: { display: false, dash: [5, 4] }
      }
    }
  },
  plugins: [panelBox, textPlugin([
    { parts: [{ t: '\u2212log' }, { t: '10', sub: true }, { t: '(p\u2212value)' }], x: 11.5, y: 208, rot: -Math.PI / 2, size: 16 },
    { parts: [{ t: 'log' }, { t: '2', sub: true }, { t: ' fold change (B6/D2)' }], x: 217, y: 385, size: 16 }
  ])]
});

// ---------- D, E: per-strain levels ----------
function levelPanel(id, xs, ys, means, errs, yMin, yMax, yTicks, yLabels, yWidth, padRight, extraPlugins) {
  const datasets = [];
  means.forEach((m, g) => {
    const c = g + 1, lo = m - errs[g], hi = m + errs[g];
    [[[c, lo], [c, hi]], [[c - capHalf, lo], [c + capHalf, lo]], [[c - capHalf, hi], [c + capHalf, hi]], [[c - meanHalf, m], [c + meanHalf, m]]]
      .forEach(seg => datasets.push({
        type: 'line', data: seg.map(([x, y]) => ({ x, y })), borderColor: groupBar[g], borderWidth: 3,
        pointRadius: 0, borderCapStyle: 'butt', order: 0
      }));
    datasets.push({
      data: xs[g].map((x, k) => ({ x, y: ys[g][k] })), showLine: false,
      pointRadius: 11.5, pointBackgroundColor: groupFill[g], pointBorderColor: groupEdge[g], pointBorderWidth: 1.2, order: 1
    });
  });
  return new Chart(document.getElementById(id), {
    type: 'scatter',
    data: { datasets },
    options: {
      layout: { padding: { top: 33, right: padRight, left: 0, bottom: 0 } },
      scales: {
        x: {
          type: 'linear', min: 0.4, max: 3.6,
          afterBuildTicks: s => { s.ticks = strains.map((_, i) => ({ value: i + 1 })); },
          afterFit: s => { s.height = 48; zeroPad(s); },
          ticks: { callback: (v, i) => [strains[i], genotypes[i]], color: '#1a1a1a', font: { size: 16, lineHeight: 1.5 }, padding: 1, autoSkip: false, maxRotation: 0 },
          grid: { color: '#d4d4d4', lineWidth: 1, drawTicks: false },
          border: { display: false, dash: [5, 4] }
        },
        y: {
          type: 'linear', min: yMin, max: yMax,
          afterBuildTicks: s => { s.ticks = yTicks.map(v => ({ value: v })); },
          afterFit: s => { s.width = yWidth; zeroPad(s); },
          ticks: { callback: v => yLabels.includes(v) ? String(v) : '', color: '#4d4d4d', font: { size: 16 }, padding: 3, autoSkip: false },
          grid: {
            color: c => (c.tick && yLabels.includes(c.tick.value)) ? '#cfcfcf' : '#e2e2e2',
            lineWidth: c => (c.tick && yLabels.includes(c.tick.value)) ? 1.2 : 0.9,
            tickLength: 3, tickColor: c => (c.tick && yLabels.includes(c.tick.value)) ? '#444' : 'rgba(0,0,0,0)'
          },
          border: { display: false, dash: [5, 4] }
        }
      }
    },
    plugins: [panelBox, ...(extraPlugins || [])]
  });
}
levelPanel('chr17', chr17X, chr17Y, chr17Mean, chr17Err, -0.25, 4.84, chr17Ticks, chr17Labels, 39, 6,
  [textPlugin([{ parts: [{ t: 'H3K4me3 level (RPM)' }], x: 12, y: 184, rot: -Math.PI / 2, size: 16 }])]);
levelPanel('chr2', chr2X, chr2Y, chr2Mean, chr2Err, -0.3, 6.19, chr2Ticks, chr2Labels, 21, 2);
</script>
</body>
</html>
